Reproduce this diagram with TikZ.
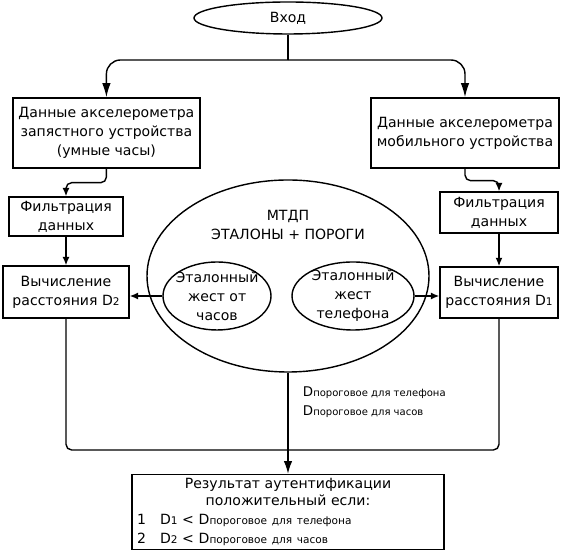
\documentclass[tikz,border=0pt]{standalone}
\usepackage{fontspec}
\setmainfont{DejaVu Sans}
\usetikzlibrary{shapes,arrows.meta,calc,positioning}
\makeatletter
\newcommand{\ind}[1]{{\fontsize{\fpeval{0.75*\f@size}}{0}\selectfont #1}}
\makeatother
\tikzset{
  blok/.style={draw, line width=1pt, align=center, inner sep=1pt},
  oval/.style={draw, ellipse, line width=1pt, inner sep=0pt},
  svyaz/.style={line width=1pt, rounded corners=4pt},
  bolshaya/.style={-{Latex[length=10pt,width=6pt]}},
}

\begin{document}
\begin{tikzpicture}[>={Latex[length=6pt,width=5pt]}, font=\fontsize{10}{13.5}\selectfont]
\useasboundingbox (0,0) rectangle (14.025,13.75);
\node[oval, minimum width=4.7cm, minimum height=0.8cm] (vhod) at (7.2,13.3) {Вход};
\node[blok, minimum width=4.675cm, minimum height=1.75cm] (dannyeL) at (2.66,10.425) {Данные акселерометра\\запястного устройства\\(умные часы)};
\node[blok, minimum width=4.7cm, minimum height=1.75cm] (dannyeR) at (11.625,10.425) {Данные акселерометра\\мобильного устройства};
\node[blok, minimum width=2.85cm, minimum height=0.975cm] (filtrL) at (1.65,8.3375) {Фильтрация\\данных};
\node[blok, minimum width=2.95cm, minimum height=1.025cm] (filtrR) at (12.475,8.4375) {Фильтрация\\данных};
\node[blok, minimum width=3.15cm, minimum height=1.3cm] (vychL) at (1.65,6.45) {Вычисление\\расстояния D\ind{2}};
\node[blok, minimum width=2.95cm, minimum height=1.275cm] (vychR) at (12.475,6.44) {Вычисление\\расстояния D\ind{1}};
\node[oval, minimum width=7.05cm, minimum height=4.8cm] (mtdp) at (7.2,6.85) {};
\node[align=center] (porogi) at (7.2,8.125) {МТДП\\ЭТАЛОНЫ + ПОРОГИ};
\node[oval, minimum width=2.7cm, minimum height=1.7cm, label={[align=center]center:Эталонный\\жест от\\часов}] (etalonL) at (5.425,6.35) {};
\node[oval, minimum width=3.05cm, minimum height=1.7cm, label={[align=center]center:Эталонный\\жест\\телефона}] (etalonR) at (8.825,6.35) {};
\node[blok, minimum width=7.8cm, minimum height=1.875cm, text width=7.55cm, inner xsep=0.125cm, align=left] (rezultat) at (7.2,0.95)
  {\centering Результат аутентификации\\[-1pt]положительный если:\par
   \raggedright 1\quad D\ind{1} < D\ind{пороговое для телефона}\\
   2\quad D\ind{2} < D\ind{пороговое для часов}\par};
\node[anchor=west, font=\fontsize{9.5}{11}\selectfont] (dTel) at (7.45,3.925) {D\ind{пороговое для телефона}};
\node[anchor=west, font=\fontsize{9.5}{11}\selectfont] (dChas) at (7.45,3.45) {D\ind{пороговое для часов}};
% razvetvlenie i sbor
\coordinate (razv) at (7.2,12.25);
\coordinate (sbor) at (7.2,2.5);
\draw[svyaz] (vhod.south) -- (razv);
\draw[svyaz,bolshaya,rounded corners=10pt] (razv) -| (dannyeL.north);
\draw[svyaz,bolshaya,rounded corners=10pt] (razv) -| (dannyeR.north);
\draw[svyaz,->] (dannyeL.south) -- ++(0,-0.35) -| (filtrL.north);
\draw[svyaz,->] (dannyeR.south) -- ++(0,-0.3) -| (filtrR.north);
\draw[svyaz,->] (filtrL.south) -- (vychL.north);
\draw[svyaz,->] (filtrR.south) -- (vychR.north);
\draw[svyaz,->] (etalonL.west) -- (etalonL.west -| vychL.east);
\draw[svyaz,->] (etalonR.east) -- (etalonR.east -| vychR.west);
\draw[svyaz] (vychL.south) |- (sbor);
\draw[svyaz] (vychR.south) |- (sbor);
\draw[svyaz,-{Latex[length=9pt,width=6pt]}] (mtdp.south) -- (rezultat.north);
\end{tikzpicture}
\end{document}
